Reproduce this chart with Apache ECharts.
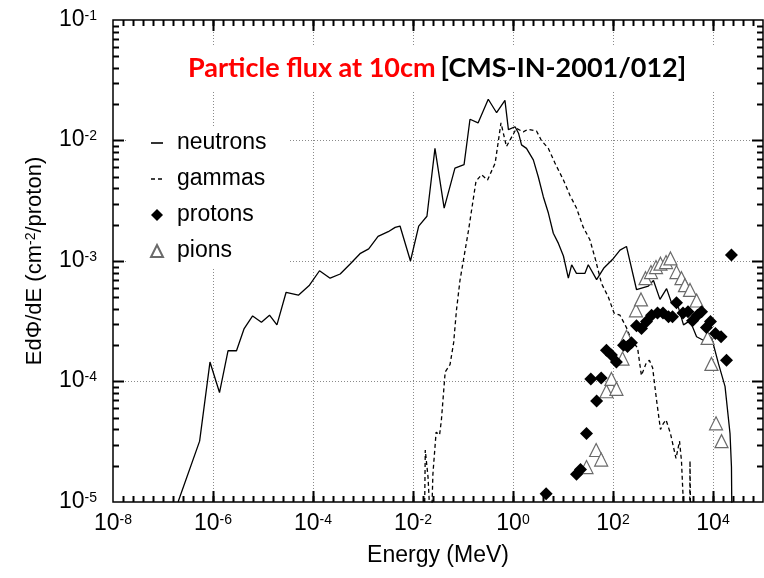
<!DOCTYPE html>
<html><head><meta charset="utf-8">
<script src="https://cdn.jsdelivr.net/npm/echarts@6/dist/echarts.min.js"></script>
<style>html,body{margin:0;padding:0;background:#fff}#c{width:764px;height:578px}</style>
</head><body><div id="c"></div>
<script>
// ---- data (energy in MeV, flux E dPhi/dE in cm^-2/proton) ----
const neutronE = [2.0e-7,5.4e-7,8.7e-7,1.35e-6,2.0e-6,2.95e-6,4.2e-6,6.2e-6,9.3e-6,1.35e-5,1.9e-5,2.9e-5,5.1e-5,8.5e-5,1.35e-4,2.2e-4,3.5e-4,5.6e-4,8.7e-4,1.3e-3,2.0e-3,3.2e-3,4.4e-3,5.5e-3,8.9e-3,1.3e-2,1.9e-2,2.75e-2,4.2e-2,6.9e-2,0.105,0.138,0.20,0.32,0.47,0.69,0.81,1.1,1.29,1.48,1.86,2.55,3.2,4.05,5.1,6.4,8.1,10.2,12.8,14.9,18.6,27.5,32,47,65,102,138,186,295,510,645,870,1180,1480,2040,2570,3470,4700,6400,9400,12900,17400,21900,23400,24300];
const neutronF = [1.0e-5,3.2e-5,1.45e-4,8.1e-5,1.8e-4,1.8e-4,2.75e-4,3.5e-4,3.1e-4,3.55e-4,2.95e-4,5.5e-4,5.2e-4,6.3e-4,8.3e-4,7.2e-4,7.8e-4,9.5e-4,1.15e-3,1.26e-3,1.6e-3,1.75e-3,1.9e-3,1.95e-3,1.0e-3,1.95e-3,2.35e-3,8.6e-3,2.75e-3,5.9e-3,6.3e-3,1.5e-2,1.4e-2,2.2e-2,1.7e-2,2.15e-2,1.23e-2,1.3e-2,1.15e-2,9.2e-3,8.6e-3,6.9e-3,5.0e-3,3.4e-3,2.5e-3,1.7e-3,1.4e-3,1.1e-3,7.2e-4,9.3e-4,7.9e-4,7.9e-4,9.3e-4,7.0e-4,8.7e-4,1.05e-3,1.23e-3,1.32e-3,5.8e-4,6.2e-4,6.9e-4,4.8e-4,5.9e-4,4.5e-4,4.1e-4,2.95e-4,3.2e-4,2.35e-4,2.2e-4,2.3e-4,1.4e-4,9.1e-5,3.7e-5,1.95e-5,3.0e-6];

const gammaE = [1.66e-2,1.76e-2,2.0e-2,2.3e-2,2.5e-2,2.9e-2,3.4e-2,3.7e-2,4.4e-2,5.5e-2,6.5e-2,7.4e-2,8.7e-2,0.129,0.182,0.235,0.31,0.44,0.575,0.74,0.98,1.17,1.6,2.0,2.95,3.7,5.1,6.9,10.2,13.8,18.6,25.5,34.5,44,59,81,105,138,186,235,310,370,455,535,620,740,890,1020,1150,1410,1820,2140,2340,2750,3390,3470,3590];
const gammaF = [3.0e-6,2.7e-5,1.6e-5,5.0e-6,1.7e-5,3.8e-5,3.6e-5,4.8e-5,1.2e-4,1.38e-4,2.1e-4,3.9e-4,6.9e-4,1.8e-3,4.6e-3,5.2e-3,4.7e-3,6.5e-3,1.4e-2,8.9e-3,1.1e-2,1.26e-2,1.18e-2,1.24e-2,1.2e-2,1.0e-2,8.6e-3,6.5e-3,4.7e-3,3.5e-3,2.75e-3,1.9e-3,1.5e-3,1.05e-3,6.5e-4,5.0e-4,3.7e-4,3.55e-4,2.8e-4,2.2e-4,1.9e-4,1.12e-4,1.4e-4,1.5e-4,1.3e-4,7.1e-5,4.0e-5,4.5e-5,4.8e-5,3.7e-5,2.3e-5,3.2e-5,2.2e-5,5.0e-6,5.0e-6,2.2e-5,5.0e-6];

const protonE = [4.6,18.6,22.4,29.5,36,47,58,74,93,117,162,195,234,295,372,468,590,776,1000,1290,1550,1860,2510,3160,3890,4900,5900,7400,8900,11200,14500,18600,23400];
const protonF = [1.17e-5,1.7e-5,1.86e-5,3.7e-5,1.05e-4,6.9e-5,1.07e-4,1.82e-4,1.66e-4,1.45e-4,2.0e-4,1.95e-4,2.1e-4,2.9e-4,2.75e-4,3.15e-4,3.55e-4,3.7e-4,3.7e-4,3.45e-4,3.45e-4,4.5e-4,3.7e-4,3.8e-4,3.2e-4,3.55e-4,3.8e-4,2.8e-4,3.15e-4,2.5e-4,2.35e-4,1.5e-4,1.12e-3];

const pionE = [29.5,46,58,74,93,117,155,186,288,363,447,575,724,890,1150,1410,1860,2340,2750,3470,4700,7800,9300,11500,14800];
const pionF = [1.95e-5,2.7e-5,2.25e-5,8.3e-5,1.05e-4,8.7e-5,1.55e-4,2.35e-4,3.9e-4,4.8e-4,7.2e-4,8.1e-4,8.9e-4,9.5e-4,9.8e-4,1.05e-3,8.1e-4,7.2e-4,6.3e-4,5.75e-4,4.7e-4,2.3e-4,1.4e-4,4.5e-5,3.2e-5];

const seriesNames = ['neutrons','gammas','protons','pions'];
const titleRed = 'Particle flux at 10cm';
const titleBlack = '[CMS-IN-2001/012]';
const xTickLabels = [1e-8,1e-6,1e-4,1e-2,1,1e2,1e4];
const yTickLabels = [1e-5,1e-4,1e-3,1e-2,1e-1];
// minor tick positions
const xMinor = []; for (let k = -40; k <= 25; k++) xMinor.push(Math.pow(10, k / 5));
const yMinor = []; for (let d = -5; d < -1; d++) for (let m = 2; m <= 9; m++) yMinor.push(m * Math.pow(10, d));

const FONT = 'Liberation Sans';
const pair = (xs, ys) => xs.map((x, i) => [x, ys[i]]);
const expFmt = v => { const e = Math.round(Math.log10(v)); return '{b|10}{s|' + e + '}'; };
const rich = {
  b: { fontSize: 23, fontFamily: FONT, color: '#000', lineHeight: 22, verticalAlign: 'bottom' },
  s: { fontSize: 14, fontFamily: FONT, color: '#000', lineHeight: 14, verticalAlign: 'top', padding: [0, 0, 12, 0] }
};

// tick marks and gridlines placed through the axes' own scales (api.coord)
function renderFrame(params, api) {
  const cs = params.coordSys;
  const L = Math.round(cs.x), R = Math.round(cs.x + cs.width), T = Math.round(cs.y), B = Math.round(cs.y + cs.height);
  const xp = v => Math.round(api.coord([v, yTickLabels[2]])[0]);
  const yp = v => Math.round(api.coord([xTickLabels[3], v])[1]);
  const out = [];
  xTickLabels.forEach(v => { const x = xp(v); if (x > L + 2 && x < R - 2)
    out.push({ type: 'line', shape: { x1: x + 0.5, y1: T, x2: x + 0.5, y2: B }, style: { stroke: '#8a8a8a', lineWidth: 1, lineDash: [1, 2] } }); });
  yTickLabels.forEach(v => { const y = yp(v); if (y > T + 2 && y < B - 2)
    out.push({ type: 'line', shape: { x1: L, y1: y + 0.5, x2: R, y2: y + 0.5 }, style: { stroke: '#8a8a8a', lineWidth: 1, lineDash: [1, 2] } }); });
  const tick = (x, y, w, h) => out.push({ type: 'rect', shape: { x: x, y: y, width: w, height: h }, style: { fill: '#000' } });
  xMinor.forEach(v => { const x = xp(v); if (x > L + 1 && x < R - 1) { tick(x - 0.5, B - 6, 2, 6); tick(x - 0.5, T, 2, 6); } });
  xTickLabels.forEach(v => { const x = xp(v); if (x > L + 1 && x < R - 1) { tick(x - 0.5, B - 11, 2, 11); tick(x - 0.5, T, 2, 11); } });
  yMinor.forEach(v => { const y = yp(v); if (y > T + 1 && y < B - 1) { tick(L, y - 0.5, 6, 2); tick(R - 6, y - 0.5, 6, 2); } });
  yTickLabels.forEach(v => { const y = yp(v); if (y > T + 1 && y < B - 1) { tick(L, y - 0.5, 11, 2); tick(R - 11, y - 0.5, 11, 2); } });
  return { type: 'group', children: out };
}

const chart = echarts.init(document.getElementById('c'));
chart.setOption({
  animation: false,
  backgroundColor: '#fff',
  grid: { left: 113, right: 1, top: 20, bottom: 76, show: true, borderColor: '#000', borderWidth: 1.5, backgroundColor: 'transparent' },
  title: {
    text: '{r|' + titleRed + '} {k|' + titleBlack + '}',
    left: 178, top: 47, padding: [8, 40, 8, 10], backgroundColor: '#fff',
    textStyle: { rich: {
      r: { fontFamily: 'Lato', fontWeight: 'bold', fontSize: 27, color: '#ff0000' },
      k: { fontFamily: 'Lato', fontWeight: 'bold', fontSize: 27, color: '#000' } } }
  },
  legend: {
    orient: 'vertical', left: 127, top: 127, padding: [4, 22, 4, 23], backgroundColor: '#fff',
    itemWidth: 12, itemHeight: 12, itemGap: 12,
    textStyle: { fontSize: 23, fontFamily: FONT, color: '#000', lineHeight: 24, padding: [0, 0, 0, 9] },
    data: [
      { name: seriesNames[0], itemStyle: { opacity: 0 }, lineStyle: { width: 1.6 } },
      { name: seriesNames[1], itemStyle: { opacity: 0 }, lineStyle: { width: 1.6, type: [4, 3] } },
      { name: seriesNames[2], icon: 'diamond' },
      { name: seriesNames[3], icon: 'triangle' }
    ]
  },
  xAxis: {
    type: 'log', logBase: 10, min: 1e-8, max: 1e5,
    axisLine: { show: false }, axisTick: { show: false }, splitLine: { show: false },
    axisLabel: { customValues: xTickLabels, formatter: expFmt, rich: rich, margin: 11 },
    name: 'Energy (MeV)', nameLocation: 'middle', nameGap: 42,
    nameTextStyle: { fontSize: 23, fontFamily: FONT, color: '#000' }
  },
  yAxis: {
    type: 'log', logBase: 10, min: 1e-5, max: 1e-1,
    axisLine: { show: false }, axisTick: { show: false }, splitLine: { show: false },
    axisLabel: { customValues: yTickLabels, formatter: expFmt, rich: rich, margin: 16 },
    name: 'EdΦ/dE (cm{s|-2}/proton)', nameLocation: 'middle', nameGap: 62, nameRotate: 90,
    nameTextStyle: { fontSize: 22, fontFamily: FONT, color: '#000', rich: {
      s: { fontSize: 14, fontFamily: FONT, color: '#000', lineHeight: 14, verticalAlign: 'top', padding: [0, 0, 10, 0] } } }
  },
  series: [
    { name: 'frame', type: 'custom', renderItem: renderFrame, data: [[1, 1e-3]], clip: false },
    { name: seriesNames[0], type: 'line', data: pair(neutronE, neutronF), symbol: 'none', clip: true, z: 3,
      lineStyle: { color: '#000', width: 1.3 }, itemStyle: { color: '#000' } },
    { name: seriesNames[1], type: 'line', data: pair(gammaE, gammaF), symbol: 'none', clip: true, z: 3,
      lineStyle: { color: '#000', width: 1.3, type: [4, 3] }, itemStyle: { color: '#000' } },
    { name: seriesNames[3], type: 'scatter', data: pair(pionE, pionF), symbol: 'triangle', symbolSize: 13, z: 4,
      itemStyle: { color: '#fff', borderColor: '#6a6a6a', borderWidth: 1.2, opacity: 1 } },
    { name: seriesNames[2], type: 'scatter', data: pair(protonE, protonF), symbol: 'diamond', symbolSize: 13, z: 5,
      itemStyle: { color: '#000', opacity: 1 } }
  ]
});
</script></body></html>
